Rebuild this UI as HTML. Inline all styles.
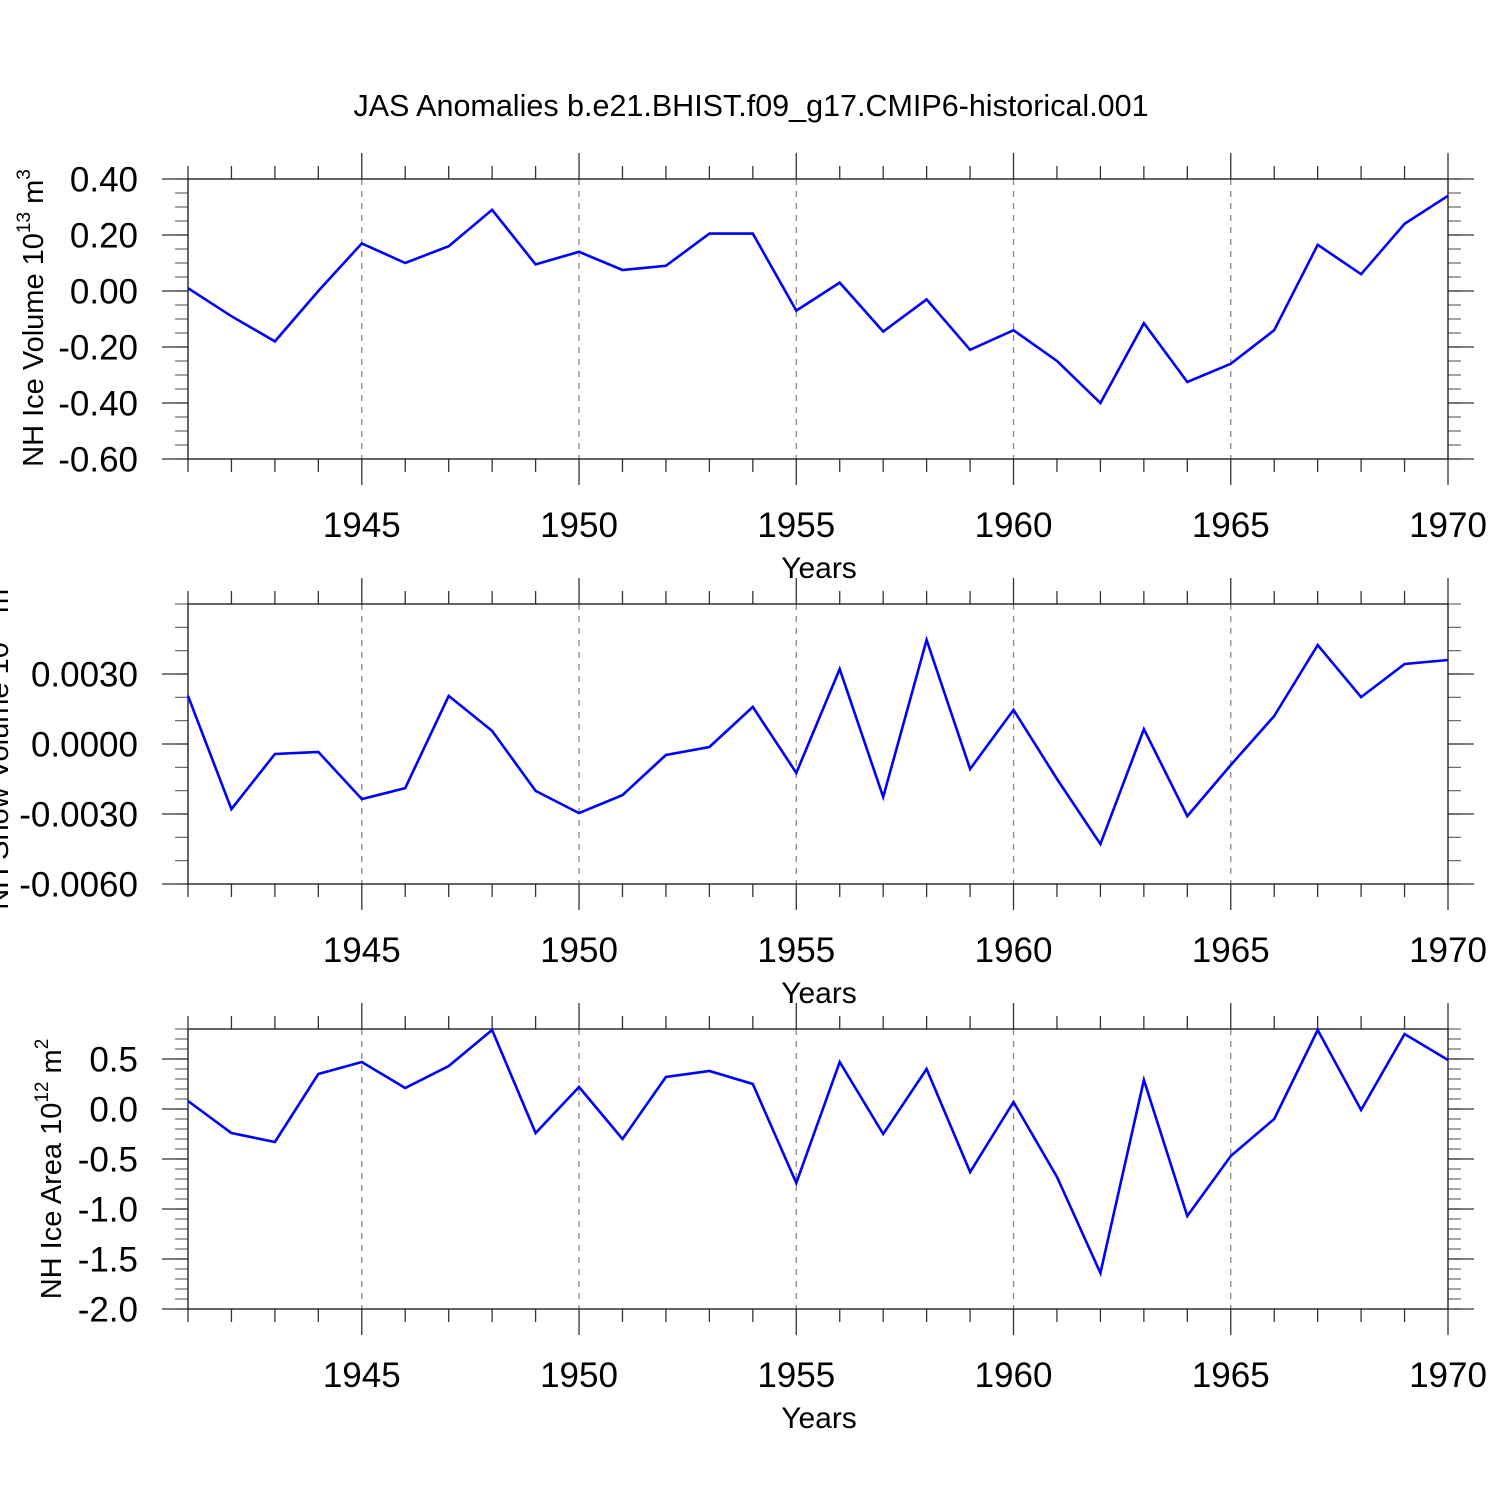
<!DOCTYPE html>
<html><head><meta charset="utf-8">
<style>
html,body{margin:0;padding:0;background:#fff;}
svg{display:block;font-family:"Liberation Sans",sans-serif;}
</style></head>
<body>
<svg id="chart" width="1500" height="1500" viewBox="0 0 1500 1500" xmlns="http://www.w3.org/2000/svg">
<text x="751" y="116" font-size="30.5" text-anchor="middle">JAS Anomalies b.e21.BHIST.f09_g17.CMIP6-historical.001</text>
</svg>
<script>
const years = [1941,1942,1943,1944,1945,1946,1947,1948,1949,1950,1951,1952,1953,1954,1955,1956,1957,1958,1959,1960,1961,1962,1963,1964,1965,1966,1967,1968,1969,1970];
const iceVolume = [0.01,-0.09,-0.18,0.00,0.17,0.10,0.16,0.29,0.095,0.14,0.075,0.09,0.205,0.205,-0.07,0.03,-0.145,-0.03,-0.21,-0.14,-0.25,-0.40,-0.115,-0.325,-0.26,-0.14,0.165,0.06,0.24,0.34];
const snowVolume = [0.00206,-0.00279,-0.00043,-0.00034,-0.00236,-0.00189,0.00206,0.00056,-0.00201,-0.00296,-0.00219,-0.00047,-0.00013,0.00159,-0.00124,0.00321,-0.00227,0.00446,-0.00107,0.00146,-0.0015,-0.00429,0.00064,-0.00309,-0.0009,0.0012,0.00424,0.00201,0.00343,0.0036];
const iceArea = [0.08,-0.24,-0.33,0.35,0.47,0.21,0.43,0.79,-0.24,0.22,-0.30,0.32,0.38,0.25,-0.74,0.47,-0.25,0.40,-0.63,0.07,-0.68,-1.64,0.29,-1.07,-0.47,-0.10,0.79,-0.01,0.75,0.49];
const xTickLabels = [1945,1950,1955,1960,1965,1970];
const iceVolTicks = [0.4,0.2,0,-0.2,-0.4,-0.6];
const iceVolTickLabels = ["0.40","0.20","0.00","-0.20","-0.40","-0.60"];
const snowTicks = [0.003,0,-0.003,-0.006];
const snowTickLabels = ["0.0030","0.0000","-0.0030","-0.0060"];
const areaTicks = [0.5,0,-0.5,-1,-1.5,-2];
const areaTickLabels = ["0.5","0.0","-0.5","-1.0","-1.5","-2.0"];

const svg = document.getElementById('chart');
const NS = 'http://www.w3.org/2000/svg';
const L = 188, R = 1448;
function mk(tag, attrs){ const e = document.createElementNS(NS, tag); for (const k in attrs) e.setAttribute(k, attrs[k]); return e; }
function xs(yr){ return L + (yr - 1941) / (1970 - 1941) * (R - L); }

function panel(cfg){
  const g = mk('g', {});
  
  
  svg.appendChild(g);
  const T = cfg.top, B = cfg.top + 280;
  const ys = v => T + (cfg.ymax - v) / (cfg.ymax - cfg.ymin) * 280;
  for (let yr = 1945; yr <= 1965; yr += 5) {
    const ln = mk('line', {x1: xs(yr), x2: xs(yr), y1: T, y2: B, stroke: '#888', 'stroke-width': 1.3, 'stroke-dasharray': '6,6'});
    
    
    g.appendChild(ln);
  }
  for (let yr = 1941; yr <= 1970; yr++) {
    const major = yr % 5 === 0;
    const len = major ? 26 : 13;
    const t1 = mk('line', {x1: xs(yr), x2: xs(yr), y1: T, y2: T - len, stroke: '#333', 'stroke-width': 1.3});
    
    
    g.appendChild(t1);
    const t2 = mk('line', {x1: xs(yr), x2: xs(yr), y1: B, y2: B + len, stroke: '#333', 'stroke-width': 1.3});
    
    
    g.appendChild(t2);
  }
  xTickLabels.forEach(yr => {
    const t = mk('text', {x: xs(yr), y: B + 78, 'font-size': 35, 'text-anchor': 'middle'});
    t.textContent = yr;
    
    
    g.appendChild(t);
  });
  for (let v = cfg.ymin; v <= cfg.ymax + 1e-9; v += cfg.minor) {
    const y = ys(v);
    [[L, L - 13], [R, R + 13]].forEach(p => {
      const t = mk('line', {x1: p[0], x2: p[1], y1: y, y2: y, stroke: '#666', 'stroke-width': 1.2});
      
      
      g.appendChild(t);
    });
  }
  cfg.ticks.forEach((v, i) => {
    const y = ys(v);
    [[L, L - 26], [R, R + 26]].forEach(p => {
      const t = mk('line', {x1: p[0], x2: p[1], y1: y, y2: y, stroke: '#333', 'stroke-width': 1.3});
      
      
      g.appendChild(t);
    });
    const lb = mk('text', {x: 138, y: y + 12.5, 'font-size': 35, 'text-anchor': 'end'});
    lb.textContent = cfg.tickLabels[i];
    
    
    g.appendChild(lb);
  });
  const fr = mk('rect', {x: L, y: T, width: R - L, height: 280, fill: 'none', stroke: '#222', 'stroke-width': 1.4});
  
  
  g.appendChild(fr);
  const pts = years.map((yr, i) => xs(yr).toFixed(1) + ',' + ys(cfg.data[i]).toFixed(1)).join(' ');
  const pl = mk('polyline', {points: pts, fill: 'none', stroke: '#0000ff', 'stroke-width': 2.6, 'stroke-linejoin': 'miter'});
  
  
  g.appendChild(pl);
  const xt = mk('text', {x: 819, y: B + 119, 'font-size': 30, 'text-anchor': 'middle'});
  xt.textContent = 'Years';
  
  
  g.appendChild(xt);
  const cy = (T + B) / 2 + cfg.titleDy;
  const yt = mk('text', {x: cfg.titleX, y: cy, 'font-size': 29, 'text-anchor': 'middle', transform: 'rotate(-90 ' + cfg.titleX + ' ' + cy + ')'});
  yt.innerHTML = cfg.title;
  
  
  g.appendChild(yt);
}

panel({name: 'ice-volume-panel', top: 179, ymin: -0.6, ymax: 0.4, minor: 0.05, ticks: iceVolTicks, tickLabels: iceVolTickLabels, data: iceVolume, titleX: 43, titleDy: -1,
  title: 'NH Ice Volume 10<tspan font-size="19" dy="-13">13</tspan><tspan dy="13"> m</tspan><tspan font-size="19" dy="-13">3</tspan>'});
panel({name: 'snow-volume-panel', top: 604, ymin: -0.006, ymax: 0.006, minor: 0.001, ticks: snowTicks, tickLabels: snowTickLabels, data: snowVolume, titleX: 8, titleDy: 0,
  title: 'NH Snow Volume 10<tspan font-size="19" dy="-13">13</tspan><tspan dy="13"> m</tspan><tspan font-size="19" dy="-13">3</tspan>'});
panel({name: 'ice-area-panel', top: 1029, ymin: -2.0, ymax: 0.8, minor: 0.1, ticks: areaTicks, tickLabels: areaTickLabels, data: iceArea, titleX: 61, titleDy: 0,
  title: 'NH Ice Area 10<tspan font-size="19" dy="-13">12</tspan><tspan dy="13"> m</tspan><tspan font-size="19" dy="-13">2</tspan>'});
</script>
</body></html>
